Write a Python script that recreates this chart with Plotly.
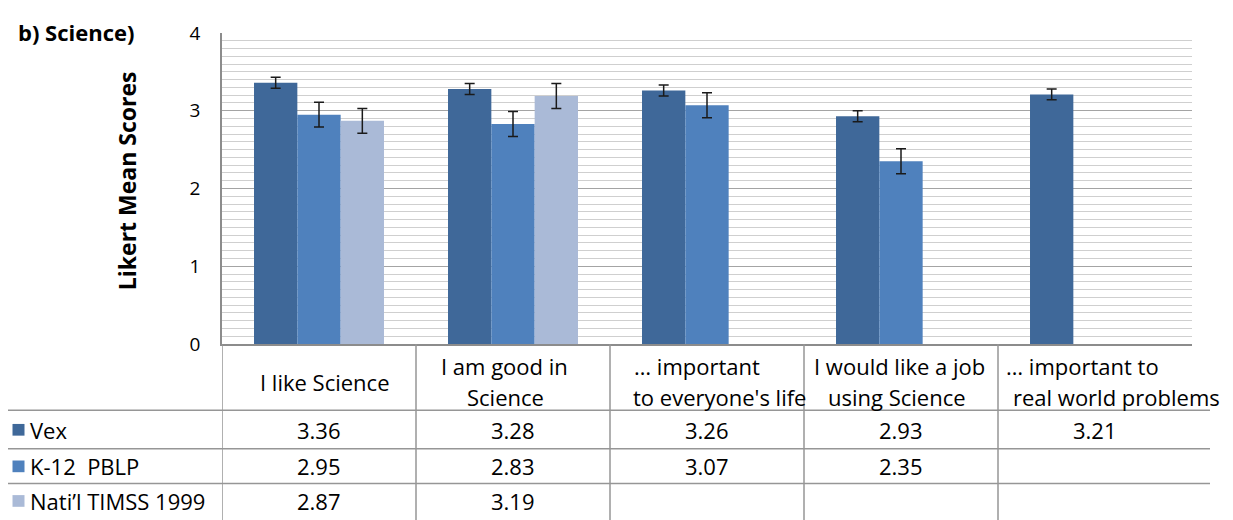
import plotly.graph_objects as go

# ---------------- data ----------------
categories = ["I like Science", "I am good in Science", "… important to everyone's life",
              "I would like a job using Science", "… important to real world problems"]
header_lines = [["I like Science"], ["I am good in", "Science"], ["… important", "to everyone's life"],
                ["I would like a job", "using Science"], ["… important to", "real world problems"]]
series_names = ["Vex", "K-12  PBLP", "Nati’l TIMSS 1999"]
vex = [3.36, 3.28, 3.26, 2.93, 3.21]
k12 = [2.95, 2.83, 3.07, 2.35, None]
timss = [2.87, 3.19, None, None, None]
vex_err = [0.07, 0.07, 0.07, 0.07, 0.07]
k12_err = [0.16, 0.16, 0.16, 0.16, None]
timss_err = [0.16, 0.16, None, None, None]
colors = ["#3F6899", "#4F81BD", "#AABAD7"]
y_ticks = [0, 1, 2, 3, 4]

# ---------------- layout geometry (reference pixels) ----------------
PAGE_OFF = 8  # default body margin of the html page
VW, VH = 1233, 520
L, R, T, B = 222, 1192, 25, 344
FONT = "Open Sans"
TXT = 22


def py(p):  # pixel y -> paper y
    return (B - p) / (B - T)


def pxx(p):  # pixel x -> paper x
    return (p - L) / (R - L)


fig = go.Figure()
series = [vex, k12, timss]
errs = [vex_err, k12_err, timss_err]
for name, vals, err, col in zip(series_names, series, errs, colors):
    fig.add_trace(go.Bar(
        x=list(range(len(categories))), y=vals, name=name,
        marker=dict(color=col, line=dict(width=0)),
        error_y=dict(type="data", array=err, visible=True, color="#1a1a1a",
                     thickness=1.5, width=5),
        hovertext=categories,
    ))

fig.update_layout(
    width=VW - PAGE_OFF, height=VH - PAGE_OFF,
    margin=dict(l=L - PAGE_OFF, r=VW - R, t=T - PAGE_OFF, b=VH - B, pad=0),
    paper_bgcolor="white", plot_bgcolor="white",
    barmode="group", bargap=0.33, bargroupgap=0,
    showlegend=False,
    font=dict(family=FONT, color="black"),
)
fig.update_xaxes(range=[-0.5, 4.5], showticklabels=False, showgrid=False, zeroline=False,
                 showline=True, linecolor="#8c8c8c", linewidth=1.5, ticks="")
fig.update_yaxes(range=[0, 4], tickvals=y_ticks, ticktext=[str(v) for v in y_ticks],
                 showgrid=True, gridcolor="#a4a4a4", gridwidth=1.3,
                 minor=dict(dtick=0.1, showgrid=True, gridcolor="#cfcfcf", gridwidth=1.3),
                 zeroline=False, showline=True, linecolor="#8c8c8c", linewidth=1.5,
                 ticks="", tickfont=dict(size=19, family=FONT, color="black"),
                 ticklabelstandoff=16)

shapes = []
ann = []
line_col = "#969696"
col_edges = [-0.5, 0.5, 1.5, 2.5, 3.5]
right_edge_px = 1210
right_edge = -0.5 + (right_edge_px - L) / ((R - L) / 5)
row_lines_px = [412, 451.5, 487]
bottom_px = 530

for e in col_edges + [right_edge]:
    shapes.append(dict(type="line", xref="x", yref="paper", x0=e, x1=e,
                       y0=py(B), y1=py(bottom_px), line=dict(color=line_col, width=1.5)))
shapes.append(dict(type="line", xref="paper", yref="paper", x0=pxx(4.5), x1=pxx(4.5),
                   y0=py(row_lines_px[0]), y1=py(bottom_px), line=dict(color=line_col, width=1.5)))
shapes.append(dict(type="line", xref="x", yref="paper", x0=4.5, x1=right_edge,
                   y0=py(B), y1=py(B), line=dict(color=line_col, width=1.5)))
for r in row_lines_px:
    shapes.append(dict(type="line", xref="paper", yref="paper", x0=pxx(4.5), x1=pxx(right_edge_px),
                       y0=py(r), y1=py(r), line=dict(color=line_col, width=1.5)))

# header labels
header_dx = [[6], [-9, -8], [-10, 12], [-2, -4], [-13, 21]]
for i, lines in enumerate(header_lines):
    ys = [383] if len(lines) == 1 else [367, 398]
    for ln, yy, dx in zip(lines, ys, header_dx[i]):
        ann.append(dict(x=i, y=py(yy), xref="x", yref="paper", text=ln, showarrow=False,
                        xanchor="center", yanchor="middle", xshift=dx,
                        font=dict(size=TXT, family=FONT, color="black")))

# data rows
row_centers = [432, 469.5, 505]
for r, (name, vals, col) in enumerate(zip(series_names, series, colors)):
    yc = row_centers[r]
    shapes.append(dict(type="rect", xref="paper", yref="paper",
                       x0=pxx(12.5), x1=pxx(24.5), y0=py(yc - 6), y1=py(yc + 6),
                       fillcolor=col, line=dict(width=0)))
    ann.append(dict(x=pxx(28), y=py(yc), xref="paper", yref="paper", text=name, showarrow=False,
                    xanchor="left", yanchor="middle",
                    font=dict(size=TXT, family=FONT, color="black")))
    for i, v in enumerate(vals):
        if v is None:
            continue
        ann.append(dict(x=i, y=py(yc), xref="x", yref="paper", text=f"{v:.2f}", showarrow=False,
                        xanchor="center", yanchor="middle",
                        font=dict(size=TXT, family=FONT, color="black")))

# title and y-axis title
ann.append(dict(x=pxx(16), y=py(24), xref="paper", yref="paper", text="<b>b) Science)</b>",
                showarrow=False, xanchor="left", yanchor="middle",
                font=dict(size=22, family=FONT, color="black")))
ann.append(dict(x=pxx(127), y=py(177), xref="paper", yref="paper", text="<b>Likert Mean Scores</b>",
                showarrow=False, textangle=-90, xanchor="center", yanchor="middle",
                font=dict(size=23, family=FONT, color="black")))

fig.update_layout(shapes=shapes, annotations=ann)
fig.write_html("out.html")
